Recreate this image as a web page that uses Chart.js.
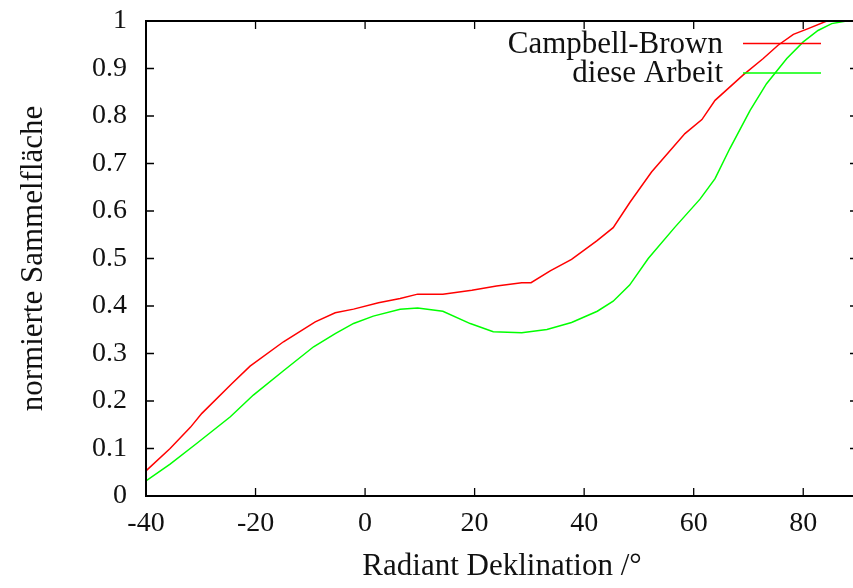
<!DOCTYPE html>
<html>
<head>
<meta charset="utf-8">
<script src="https://cdn.jsdelivr.net/npm/chart.js@4/dist/chart.umd.min.js"></script>
<style>
  html, body { margin: 0; padding: 0; background: #fff; overflow: hidden; }
  #wrap { width: 853px; height: 588px; overflow: hidden; position: relative; }
  canvas { display: block; }
</style>
</head>
<body>
<div id="wrap"><canvas id="c" width="866" height="588"></canvas></div>
<script>
// ---- data ----
const seriesNames = ['Campbell-Brown', 'diese Arbeit'];
const redX = [-40,-35.6,-31.9,-29.8,-24.3,-21,-14.9,-9.1,-5.45,-2.1,2.45,6.4,9.6,14.2,19.5,24,28.6,30.3,33.8,37.7,42.3,45.3,48.4,52.3,58.4,61.5,63.9,69,72.7,75.4,78.2,80.9,84.3,89];
const redY = [0.053,0.100,0.1445,0.174,0.237,0.2735,0.3247,0.3667,0.3857,0.3934,0.4067,0.416,0.425,0.425,0.4334,0.442,0.449,0.449,0.474,0.498,0.537,0.565,0.619,0.682,0.763,0.7925,0.833,0.886,0.921,0.949,0.972,0.984,1.0,1.0];
const greenX = [-40,-35.6,-30.7,-24.6,-20.4,-14.9,-9.4,-5.45,-2.1,1.5,6.4,9.6,14.2,19.2,23.4,28.6,33.2,37.7,42.4,45.3,48.3,51.7,56.5,61.15,63.9,66.6,70.3,73.3,77,80,82.7,85.2,87.9,89];
const greenY = [0.0316,0.0673,0.111,0.1668,0.2125,0.2637,0.3142,0.342,0.3633,0.3787,0.393,0.396,0.389,0.363,0.3457,0.3436,0.3507,0.3654,0.389,0.410,0.444,0.500,0.565,0.625,0.668,0.7315,0.812,0.868,0.921,0.956,0.980,0.9945,1.0,1.0];
const xTicks = [-40,-20,0,20,40,60,80];
const yTicks = [0,0.1,0.2,0.3,0.4,0.5,0.6,0.7,0.8,0.9,1];
const xTitle = 'Radiant Deklination /°';
const yTitle = 'normierte Sammelfläche';

const FONT = "'Liberation Serif', 'Times New Roman', serif";
const toPts = (xs, ys) => xs.map((x, i) => ({x: x, y: ys[i]}));

// gnuplot-like frame, inward mirrored ticks, and inside key
const framePlugin = {
  id: 'frame',
  afterDatasetsDraw(chart) {
    const {ctx, chartArea: a, scales} = chart;
    const xs = scales.x, ys = scales.y;
    ctx.save();
    ctx.strokeStyle = '#000';
    ctx.lineWidth = 1.3;
    ctx.beginPath();
    const TL = 8;
    xs.ticks.forEach(t => {
      const px = xs.getPixelForValue(t.value);
      ctx.moveTo(px, a.bottom); ctx.lineTo(px, a.bottom - TL);
      ctx.moveTo(px, a.top); ctx.lineTo(px, a.top + TL);
    });
    ys.ticks.forEach(t => {
      const py = ys.getPixelForValue(t.value);
      ctx.moveTo(a.left, py); ctx.lineTo(a.left + TL, py);
      ctx.moveTo(a.right, py); ctx.lineTo(a.right - TL, py);
    });
    ctx.stroke();
    ctx.lineWidth = 2;
    ctx.strokeRect(a.left, a.top, a.right - a.left, a.bottom - a.top);
    // key (legend) inside the plot, top right
    ctx.font = "31px " + FONT;
    ctx.textAlign = 'right';
    ctx.textBaseline = 'middle';
    const textRight = a.left + 577;
    const lineX0 = a.left + 597, lineX1 = a.left + 675;
    chart.data.datasets.forEach((ds, i) => {
      const y = a.top + 22.6 + i * 29.4;
      ctx.fillStyle = '#111';
      ctx.fillText(ds.label, textRight, y + 1);
      ctx.strokeStyle = ds.borderColor;
      ctx.lineWidth = 1.5;
      ctx.beginPath();
      ctx.moveTo(lineX0, y); ctx.lineTo(lineX1, y);
      ctx.stroke();
    });
    ctx.restore();
  }
};

new Chart(document.getElementById('c'), {
  type: 'line',
  data: {
    datasets: [
      { label: seriesNames[0], data: toPts(redX, redY), borderColor: '#ff0000', borderWidth: 1.5, pointRadius: 0, tension: 0, fill: false },
      { label: seriesNames[1], data: toPts(greenX, greenY), borderColor: '#00ff00', borderWidth: 1.5, pointRadius: 0, tension: 0, fill: false }
    ]
  },
  options: {
    responsive: false,
    animation: false,
    devicePixelRatio: 1,
    layout: { padding: { top: 0, right: 8, left: 0, bottom: 0 } },
    plugins: { legend: { display: false }, tooltip: { enabled: false } },
    scales: {
      x: {
        type: 'linear', min: -40, max: 90,
        afterBuildTicks: s => { s.ticks = xTicks.map(v => ({value: v})); },
        afterFit: s => { s.height = 92; s.paddingRight = 0; s.paddingLeft = 0; },
        grid: { display: false, drawTicks: false },
        border: { display: false },
        ticks: { color: '#111', font: { family: FONT, size: 28 }, padding: 11, maxRotation: 0,
                 callback: v => String(v) },
        title: { display: true, text: xTitle, color: '#111', font: { family: FONT, size: 31 }, padding: { top: 0, bottom: 3 } }
      },
      y: {
        type: 'linear', min: 0, max: 1,
        afterBuildTicks: s => { s.ticks = yTicks.map(v => ({value: v})); },
        afterFit: s => { s.width = 146; s.paddingTop = 21; s.paddingBottom = 0; },
        grid: { display: false, drawTicks: false },
        border: { display: false },
        ticks: { color: '#111', font: { family: FONT, size: 28 }, padding: 19,
                 callback: v => String(Number(v.toFixed(1))) },
        title: { display: true, text: yTitle, color: '#111', font: { family: FONT, size: 31 }, padding: { top: 15, bottom: 0 } }
      }
    }
  },
  plugins: [framePlugin]
});
</script>
</body>
</html>
